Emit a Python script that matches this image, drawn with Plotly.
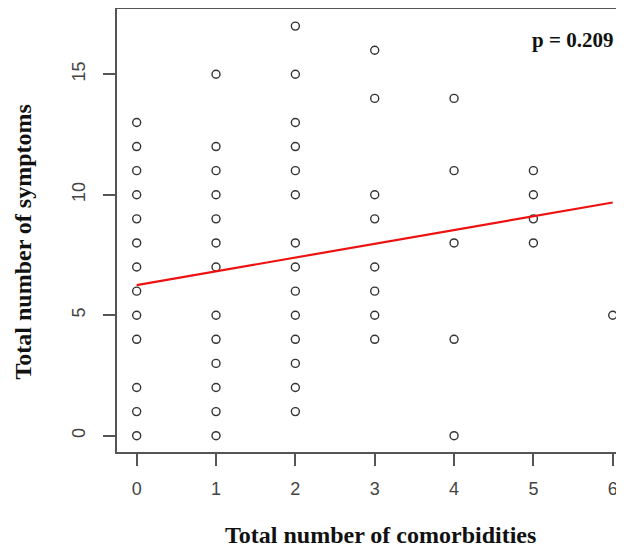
import plotly.graph_objects as go

# Data (duplicates are drawn on top of each other)
comorb_0 = [13, 12, 11, 10, 9, 8, 7, 6, 5, 4, 2, 1, 0]
comorb_1 = [15, 12, 11, 10, 9, 8, 7, 5, 4, 3, 2, 1, 0]
comorb_2 = [17, 15, 13, 12, 11, 10, 8, 7, 6, 5, 4, 3, 2, 1]
comorb_3 = [16, 14, 10, 9, 7, 6, 5, 4]
comorb_4 = [14, 11, 8, 4, 0]
comorb_5 = [11, 10, 9, 8]
comorb_6 = [5]

columns = [comorb_0, comorb_1, comorb_2, comorb_3, comorb_4, comorb_5, comorb_6]
xs, ys = [], []
for k, col in enumerate(columns):
    xs += [k] * len(col)
    ys += col

fit_x = [0, 6]
fit_y = [6.25, 9.68]

x_ticks = [0, 1, 2, 3, 4, 5, 6]
y_ticks = [0, 5, 10, 15]
p_label = "p = 0.209"

fig = go.Figure()
fig.add_trace(go.Scatter(
    x=xs, y=ys, mode="markers",
    marker=dict(symbol="circle-open", size=8, color="#333333", line=dict(width=1.4, color="#333333")),
    showlegend=False, hoverinfo="skip"))
fig.add_trace(go.Scatter(
    x=fit_x, y=fit_y, mode="lines",
    line=dict(color="#ee1111", width=2.2), showlegend=False, hoverinfo="skip"))

tickfont = dict(family="Liberation Sans, Arial", size=18, color="#444444")
fig.update_layout(
    width=616, height=541,
    margin=dict(l=109, r=0, t=1, b=97),
    paper_bgcolor="white", plot_bgcolor="white",
    xaxis=dict(range=[-0.248, 6.142], tickvals=x_ticks, ticks="outside", ticklen=12,
               tickwidth=1.5, tickcolor="#555555", showline=True, linecolor="#555555",
               linewidth=1.5, mirror=True, showgrid=False, zeroline=False,
               tickfont=tickfont, ticklabelstandoff=8),
    yaxis=dict(range=[-0.677, 17.71], tickvals=y_ticks, ticks="outside", ticklen=12,
               tickwidth=1.5, tickcolor="#555555", showline=True, linecolor="#555555",
               linewidth=1.5, mirror=False, showgrid=False, zeroline=False,
               tickfont=tickfont, tickangle=-90, ticklabelstandoff=11),
)

titlefont = dict(family="Liberation Serif, Times New Roman", size=24, color="#111111")
fig.add_annotation(text="<b>Total number of comorbidities</b>", xref="x", yref="paper",
                   x=3.07, y=0, yanchor="middle", yshift=-83, showarrow=False, font=titlefont)
fig.add_annotation(text="<b>Total number of symptoms</b>", xref="paper", yref="paper",
                   x=0, y=0.5, xanchor="center", yanchor="middle", xshift=-95, yshift=-12,
                   textangle=-90, showarrow=False, font=titlefont)
fig.add_annotation(text="<b>" + p_label + "</b>", xref="x", yref="y",
                   x=6.03, y=16.43, xanchor="right", yanchor="middle", showarrow=False,
                   font=dict(family="Liberation Serif, Times New Roman", size=21, color="#111111"))

fig.write_html("out.html")
